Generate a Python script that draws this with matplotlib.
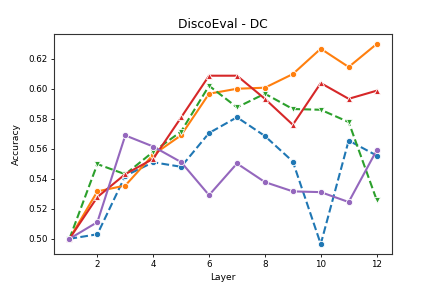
import matplotlib
matplotlib.use("Agg")
import matplotlib.pyplot as plt

layers = list(range(1, 13))

# accuracy per layer, one list per model
blue = [0.500, 0.503, 0.542, 0.551, 0.548, 0.5705, 0.581, 0.5685, 0.5515, 0.4965, 0.5655, 0.5555]
orange = [0.500, 0.5316, 0.5355, 0.556, 0.569, 0.5967, 0.600, 0.6007, 0.6098, 0.6267, 0.6145, 0.6298]
green = [0.500, 0.5498, 0.543, 0.558, 0.5715, 0.602, 0.5876, 0.5967, 0.5865, 0.586, 0.5778, 0.526]
red = [0.500, 0.5278, 0.5431, 0.5533, 0.5809, 0.6087, 0.6087, 0.5933, 0.576, 0.6038, 0.5933, 0.5987]
purple = [0.500, 0.5111, 0.5689, 0.5615, 0.5511, 0.5291, 0.5502, 0.5378, 0.5316, 0.5311, 0.5245, 0.5589]

series = [
    (blue, "#1f77b4", "--", "o"),
    (orange, "#ff7f0e", "-", "o"),
    (green, "#2ca02c", "--", "v"),
    (red, "#d62728", "-", "^"),
    (purple, "#9467bd", "-", "o"),
]

fig = plt.figure(figsize=(4.36, 2.91), dpi=100)
ax = fig.add_axes([0.124, 0.127, 0.775, 0.756])

for vals, col, ls, mk in series:
    ax.plot(layers, vals, color=col, linestyle=ls, marker=mk, markersize=4.5,
            markeredgecolor="white", markeredgewidth=0.6, linewidth=1.5)

ax.set_xticks([2, 4, 6, 8, 10, 12])
ax.set_title("DiscoEval - DC", fontsize=8.8, pad=4.5)
ax.set_xlabel("Layer", fontsize=6.6, labelpad=3)
ax.set_ylabel("Accuracy", fontsize=6.6, labelpad=5)
ax.tick_params(labelsize=6.3, length=2.5, width=0.6, pad=2)
for sp in ax.spines.values():
    sp.set_linewidth(0.8)
    sp.set_color("#333333")

fig.savefig("out.png", dpi=100)
